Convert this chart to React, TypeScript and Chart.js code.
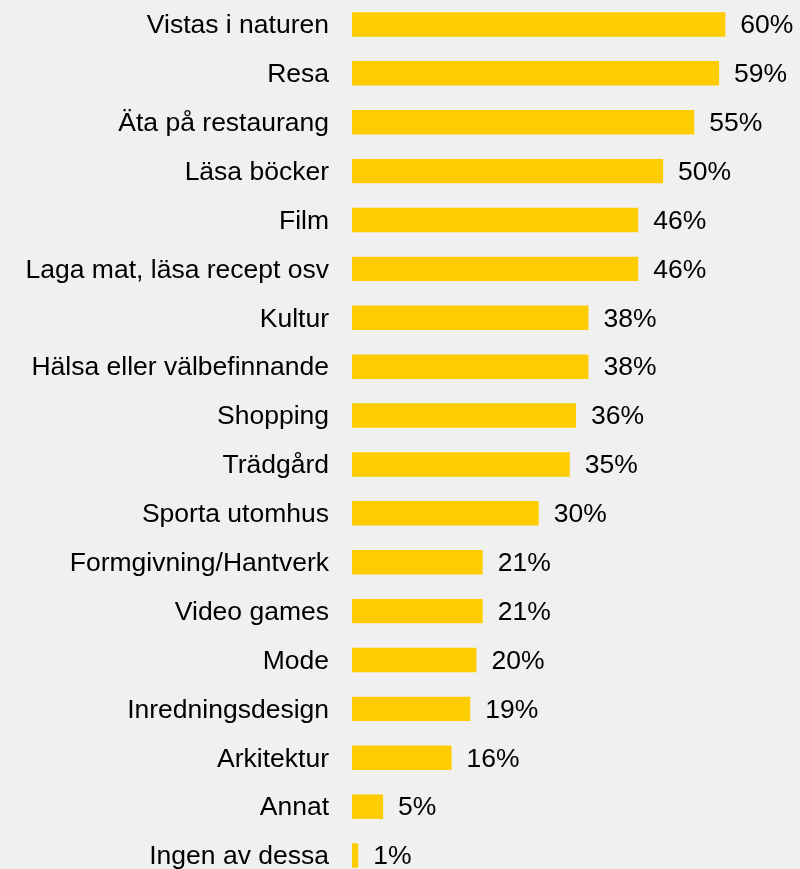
import { useEffect, useRef } from "react";
import { Chart, registerables } from "chart.js";

Chart.register(...registerables);

const categories = [
  "Vistas i naturen",
  "Resa",
  "Äta på restaurang",
  "Läsa böcker",
  "Film",
  "Laga mat, läsa recept osv",
  "Kultur",
  "Hälsa eller välbefinnande",
  "Shopping",
  "Trädgård",
  "Sporta utomhus",
  "Formgivning/Hantverk",
  "Video games",
  "Mode",
  "Inredningsdesign",
  "Arkitektur",
  "Annat",
  "Ingen av dessa",
];

const values = [60, 59, 55, 50, 46, 46, 38, 38, 36, 35, 30, 21, 21, 20, 19, 16, 5, 1];

const xMax = 72;

const BG = "#f0f0f0";
const BAR = "#ffcc00";
const FONT = '"Liberation Sans", Arial, sans-serif';
const FONT_SIZE = 26.5;

const valueLabelPlugin = {
  id: "valueLabels",
  afterDatasetsDraw(chart: any) {
    const ctx = chart.ctx;
    const meta = chart.getDatasetMeta(0);
    ctx.save();
    ctx.font = `${FONT_SIZE}px ${FONT}`;
    ctx.fillStyle = "#000";
    ctx.textAlign = "left";
    ctx.textBaseline = "middle";
    meta.data.forEach((el: any, i: number) => {
      const { x, y } = el.getProps(["x", "y"], true);
      ctx.fillText(`${values[i]}%`, x + 15, y + 1.5);
    });
    ctx.restore();
  },
};

export default function App() {
  const canvasRef = useRef<HTMLCanvasElement | null>(null);

  useEffect(() => {
    document.body.style.margin = "0";
    const canvas = canvasRef.current;
    if (!canvas) return;
    const chart = new Chart(canvas, {
      type: "bar",
      data: {
        labels: categories,
        datasets: [
          {
            data: values,
            backgroundColor: BAR,
            borderWidth: 0,
            barPercentage: 0.5,
            categoryPercentage: 1,
          },
        ],
      },
      options: {
        indexAxis: "y",
        animation: false,
        responsive: true,
        maintainAspectRatio: false,
        layout: { padding: 0, autoPadding: false },
        plugins: {
          legend: { display: false },
          tooltip: { enabled: false },
          title: { display: false },
        },
        scales: {
          x: {
            display: false,
            min: 0,
            max: xMax,
          },
          y: {
            grid: { display: false, drawTicks: false },
            border: { display: false },
            ticks: {
              color: "#000",
              padding: 23,
              labelOffset: 1.5,
              autoSkip: false,
              font: { family: FONT, size: FONT_SIZE },
            },
            afterFit: (scale: any) => {
              scale.width = 352;
              scale.paddingTop = 0;
              scale.paddingBottom = 0;
            },
          },
        },
      },
      plugins: [valueLabelPlugin],
    });
    return () => chart.destroy();
  }, []);

  return (
    <div style={{ width: 800, height: 869, overflow: "hidden", background: BG }}>
      <div style={{ position: "relative", width: 800, height: 880 }}>
        <canvas ref={canvasRef} />
      </div>
    </div>
  );
}
